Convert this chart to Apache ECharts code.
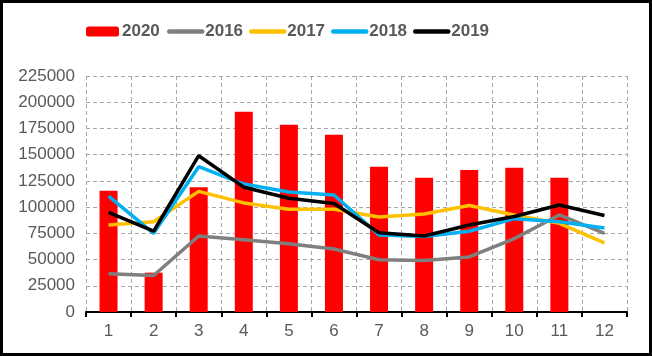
<!DOCTYPE html>
<html><head><meta charset="utf-8">
<script src="https://cdn.jsdelivr.net/npm/echarts@6/dist/echarts.min.js"></script>
<style>
html,body{margin:0;padding:0;background:#fff;}
#wrap{width:652px;height:356px;box-sizing:border-box;border:3px solid #000;}
#c{width:646px;height:350px;}
</style></head>
<body><div id="wrap"><div id="c"></div></div>
<script>
const categories = ['1','2','3','4','5','6','7','8','9','10','11','12'];
const s2020 = [115500, 37500, 119000, 191000, 178500, 169000, 138500, 128000, 135500, 137500, 128000, null];
const s2016 = [36500, 34800, 72500, 68800, 65000, 60000, 49800, 49000, 52500, 70000, 92500, 75000];
const s2017 = [83000, 86000, 115000, 104000, 98000, 98000, 90500, 93500, 101500, 92500, 84500, 66000];
const s2018 = [110500, 75000, 138500, 122000, 114500, 111500, 73500, 72000, 77000, 89000, 86000, 80000];
const s2019 = [95000, 77000, 149000, 119000, 108500, 103500, 75500, 72500, 83000, 91000, 102000, 92000];
const legendNames = ['2020','2016','2017','2018','2019'];
const legendLeft = [78, 159, 241, 323, 405];

const chart = echarts.init(document.getElementById('c'));
const lineSeries = (name, data, color) => ({
  name, type:'line', data, showSymbol:false, symbol:'none',
  lineStyle:{color, width:3.5}, itemStyle:{color}, z:3
});
chart.setOption({
  animation:false,
  textStyle:{fontFamily:'Liberation Sans'},
  legend: legendNames.map((n,i)=>({
    top:15, left:legendLeft[i], itemGap:0, itemWidth:33, itemHeight:10,
    textStyle:{color:'#595959', fontSize:17, fontWeight:'bold', fontFamily:'Liberation Sans', padding:[0,0,0,-2]},
    data:[ i===0 ? {name:n} : {name:n, itemStyle:{opacity:0}, lineStyle:{width:4.5, cap:'round'}} ]
  })),
  grid:{left:83, right:22, top:73, bottom:41},
  xAxis:{
    type:'category', data:categories, boundaryGap:true,
    axisLine:{lineStyle:{color:'#000', width:2}},
    axisTick:{show:true, length:5, lineStyle:{color:'#000', width:2}},
    axisLabel:{color:'#595959', fontSize:17, margin:11},
    splitLine:{show:true, lineStyle:{color:'#a6a6a6', type:[4,3], width:1}}
  },
  yAxis:{
    type:'value', min:0, max:225000, interval:25000,
    axisLine:{show:false}, axisTick:{show:false},
    axisLabel:{color:'#595959', fontSize:17, margin:11, formatter:v=>String(v)},
    splitLine:{show:true, lineStyle:{color:'#a6a6a6', type:[4,3], width:1}}
  },
  series:[
    {name:'2020', type:'bar', data:s2020, barWidth:18, itemStyle:{color:'#ff0000'}, z:2},
    lineSeries('2016', s2016, '#7f7f7f'),
    lineSeries('2017', s2017, '#ffc000'),
    lineSeries('2018', s2018, '#00b0f0'),
    lineSeries('2019', s2019, '#000000')
  ]
});
</script></body></html>
